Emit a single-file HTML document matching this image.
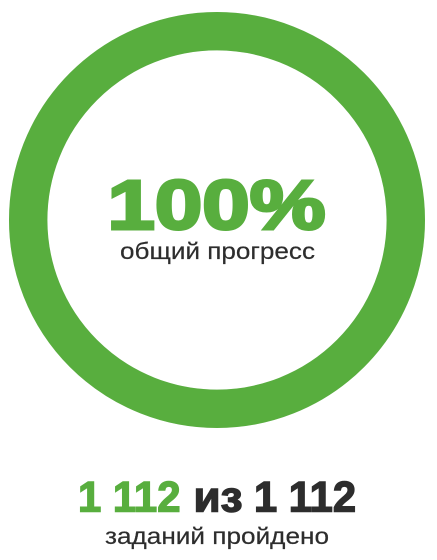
<!DOCTYPE html>
<html lang="ru">
<head>
<meta charset="utf-8">
<title>Общий прогресс</title>
<style>
html,body{margin:0;padding:0;background:#fff;width:437px;height:560px;overflow:hidden}
svg{display:block}
text{font-family:"Liberation Sans","Noto Sans CJK SC",sans-serif}
</style>
</head>
<body>
<svg id="chart" width="437" height="560" viewBox="0 0 437 560" xmlns="http://www.w3.org/2000/svg">
  <circle id="track" cx="217" cy="220" r="188.8" fill="none" stroke="#e6e6e6" stroke-width="38.4"/>
  <circle id="arc" cx="217" cy="220" r="188.8" fill="none" stroke="#58ae3e" stroke-width="38.4" transform="rotate(-90 217 220)"/>
  <text id="pct" x="107.5" y="229" font-size="70" font-weight="700" fill="#58ae3e" stroke="#58ae3e" stroke-width="3" textLength="218" lengthAdjust="spacingAndGlyphs"></text>
  <text x="120" y="259" font-size="23" fill="#2d2d2d" stroke="#2d2d2d" stroke-width="0.2" textLength="195" lengthAdjust="spacingAndGlyphs">общий прогресс</text>
  <text id="done" x="78" y="511.5" font-size="43" font-weight="700" fill="#58ae3e" stroke="#58ae3e" stroke-width="1.4" textLength="102.5" lengthAdjust="spacingAndGlyphs"></text>
  <text x="193.5" y="511.5" font-size="43" font-weight="700" fill="#2d2d2d" stroke="#2d2d2d" stroke-width="1.4" textLength="49" lengthAdjust="spacingAndGlyphs">из</text>
  <text id="total" x="254" y="511.5" font-size="43" font-weight="700" fill="#2d2d2d" stroke="#2d2d2d" stroke-width="1.4" textLength="102" lengthAdjust="spacingAndGlyphs"></text>
  <text x="105" y="544" font-size="23" fill="#2d2d2d" stroke="#2d2d2d" stroke-width="0.2" textLength="224" lengthAdjust="spacingAndGlyphs">заданий пройдено</text>
</svg>
<script>
var completedTasks = [1112];
var totalTasks = [1112];

function fmt(n) {
  return String(n).replace(/\B(?=(\d{3})+(?!\d))/g, ' ');
}
function arcLength(value, max, r) {
  return (value / max) * 2 * Math.PI * r;
}
var arc = document.getElementById('arc');
var r = Number(arc.getAttribute('r'));
var circumference = 2 * Math.PI * r;
arc.setAttribute('stroke-dasharray', arcLength(completedTasks[0], totalTasks[0], r) + ' ' + circumference);
document.getElementById('pct').textContent = Math.round(completedTasks[0] / totalTasks[0] * 100) + '%';
document.getElementById('done').textContent = fmt(completedTasks[0]);
document.getElementById('total').textContent = fmt(totalTasks[0]);
</script>
</body>
</html>
